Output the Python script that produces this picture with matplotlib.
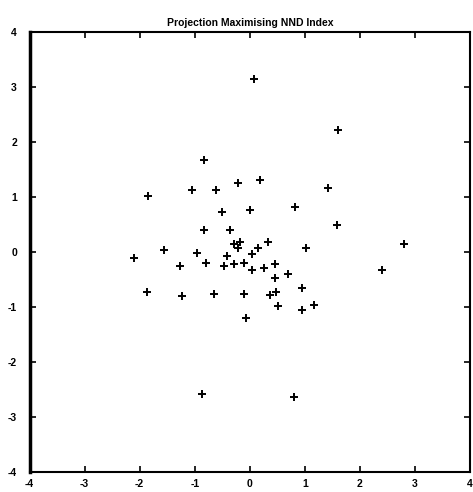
import matplotlib
matplotlib.use("Agg")
import matplotlib.pyplot as plt

# projected data points
x = [0.07, 1.60, -0.83, 1.42, -1.85, -1.05, -0.61, -0.21, 0.19,
     -0.50, 0.00, 0.82, 1.58, -0.83, -0.36, -0.29, -0.18, -0.22,
     0.33, 0.15, 0.04, 1.02, -2.11, -1.56, -0.95, -0.41, -1.27,
     -0.80, -0.47, -0.29, -0.10, 0.04, 0.25, 0.45, 0.45, 0.69,
     -1.86, -1.23, -0.65, -0.11, 0.36, 0.48, 0.95, 0.52, 0.94,
     1.17, -0.07, 2.80, 2.41, -0.87, 0.80]
y = [3.14, 2.22, 1.67, 1.16, 1.02, 1.12, 1.13, 1.25, 1.30,
     0.73, 0.76, 0.81, 0.48, 0.40, 0.40, 0.15, 0.18, 0.07,
     0.18, 0.07, -0.04, 0.07, -0.12, 0.03, -0.03, -0.07, -0.26,
     -0.21, -0.25, -0.22, -0.21, -0.33, -0.30, -0.22, -0.48, -0.40,
     -0.73, -0.80, -0.77, -0.76, -0.78, -0.73, -0.66, -0.98, -1.05,
     -0.96, -1.21, 0.15, -0.33, -2.59, -2.64]
ticks = [-4, -3, -2, -1, 0, 1, 2, 3, 4]

plt.rcParams["font.family"] = ["Liberation Sans", "DejaVu Sans"]
plt.rcParams["axes.unicode_minus"] = False

fig = plt.figure(figsize=(4.73, 4.92), dpi=100)
ax = fig.add_axes([0.0624, 0.0407, 0.9313, 0.8949])
ax.plot(x, y, "k+", markersize=5.5, markeredgewidth=1.4)
ax.set_xlim(-4, 4)
ax.set_ylim(-4, 4)
ax.set_xticks(ticks)
ax.set_yticks(ticks)
ax.tick_params(direction="in", length=4, width=1.2, top=True, right=True,
               labelsize=7.5)
ax.tick_params(axis="x", pad=5)
ax.tick_params(axis="y", pad=9)
for lab in ax.get_xticklabels() + ax.get_yticklabels():
    lab.set_fontweight("bold")
for s in ax.spines.values():
    s.set_linewidth(1.5)
ax.spines["left"].set_linewidth(2.5)
ax.set_title("Projection Maximising NND Index", fontsize=7.5,
             fontweight="bold", pad=4)
fig.savefig("out.png", dpi=100)
